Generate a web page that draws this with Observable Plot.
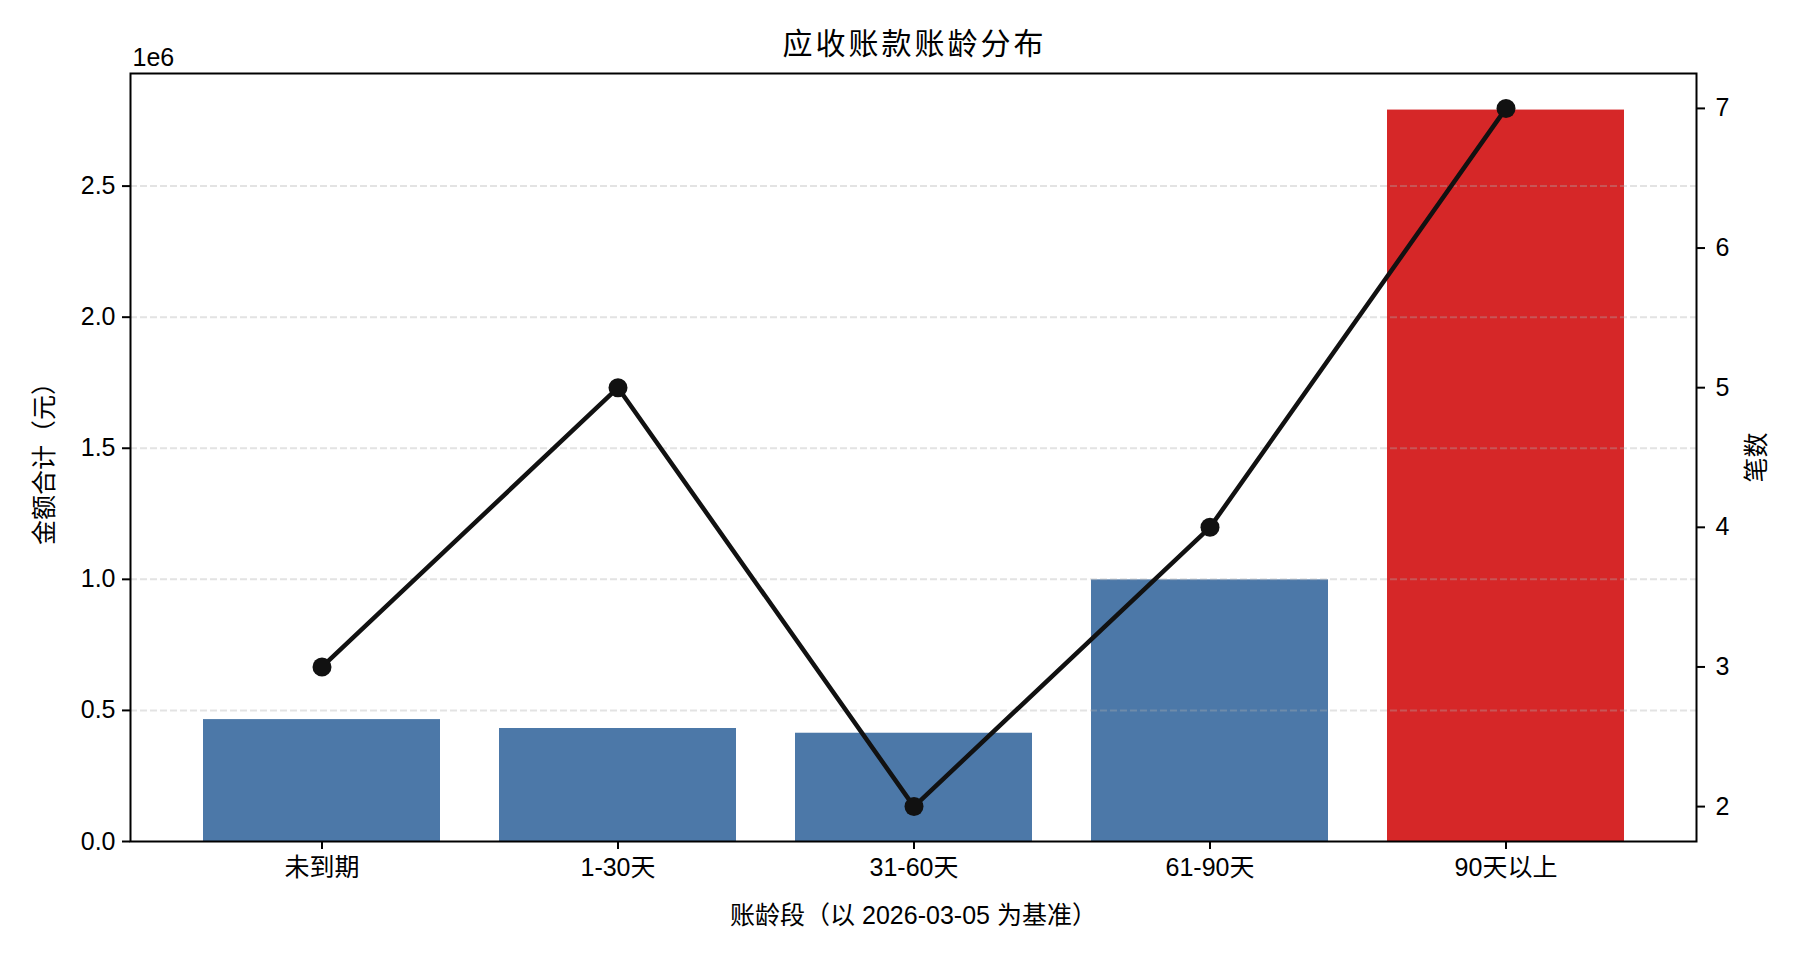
<!DOCTYPE html>
<html>
<head>
<meta charset="utf-8">
<script src="https://cdn.jsdelivr.net/npm/d3@7"></script>
<script src="https://cdn.jsdelivr.net/npm/@observablehq/plot@0.6"></script>
<style>
  html, body { margin: 0; padding: 0; background: #fff; }
  #wrap { position: relative; width: 1800px; height: 960px; font-family: "Liberation Sans", "Noto Sans CJK SC", sans-serif; color: #000; }
  #title { position: absolute; left: 130px; width: 1566px; top: 29px; line-height: 30px; font-size: 30px; letter-spacing: 3px; padding-left: 3px; box-sizing: border-box; text-align: center; }
  #wrap svg { position: absolute; left: 0; top: 0; }
</style>
</head>
<body>
<div id="wrap">
  <div id="title">应收账款账龄分布</div>
</div>
<script>
// ---- data ----
const categories = ["未到期", "1-30天", "31-60天", "61-90天", "90天以上"];
const amounts = [465000, 431000, 413000, 998000, 2790000];
const counts = [3, 5, 2, 4, 7];
const amountTicks = [0, 500000, 1000000, 1500000, 2000000, 2500000];
const countTicks = [2, 3, 4, 5, 6, 7];
const overdueCategory = "90天以上";

const rows = categories.map((c, i) => ({ category: c, amount: amounts[i], count: counts[i] }));

// ---- layout ----
const W = 1800, H = 960;
const mL = 130, mR = 104, mT = 73, mB = 119;
const font = '"Liberation Sans", "Noto Sans CJK SC", sans-serif';
const xOpts = { type: "band", domain: categories, paddingInner: 0.2, paddingOuter: 0.24 };

const countMin = d3.min(counts), countMax = d3.max(counts);
const countPad = (countMax - countMin) * 0.05;

const baseStyle = { fontFamily: font, fontSize: "25px", color: "#000", background: "transparent", overflow: "visible" };

const p1 = Plot.plot({
  width: W, height: H,
  marginLeft: mL, marginRight: mR, marginTop: mT, marginBottom: mB,
  style: baseStyle,
  x: xOpts,
  y: { domain: [0, d3.max(amounts) * 1.05] },
  color: { domain: ["normal", "overdue"], range: ["#4c78a8", "#d62728"] },
  marks: [
    Plot.barY(rows, { x: "category", y: "amount", fill: d => d.category === overdueCategory ? "overdue" : "normal" }),
    Plot.ruleY(amountTicks.filter(t => t > 0), { stroke: "#b0b0b0", strokeOpacity: 0.35, strokeWidth: 2, strokeDasharray: "7,3" }),
    Plot.axisY({ ticks: amountTicks, tickFormat: d => (d / 1e6).toFixed(1), tickSize: 8, tickPadding: 7, strokeWidth: 2, label: null }),
    Plot.axisX({ tickSize: 8, tickPadding: 9, strokeWidth: 2, label: null }),
    Plot.frame({ stroke: "#000", strokeWidth: 2 }),
    Plot.text(["1e6"], { frameAnchor: "top-left", dx: 2, dy: -8, lineAnchor: "bottom", textAnchor: "start" }),
    Plot.text(["金额合计（元）"], { frameAnchor: "left", dx: -86, rotate: -90, textAnchor: "middle", lineAnchor: "middle" }),
    Plot.text(["账龄段（以 2026-03-05 为基准）"], { frameAnchor: "bottom", dy: 74, textAnchor: "middle", lineAnchor: "middle" })
  ]
});

const p2 = Plot.plot({
  width: W, height: H,
  marginLeft: mL, marginRight: mR, marginTop: mT, marginBottom: mB,
  style: baseStyle,
  x: { ...xOpts, axis: null },
  y: { domain: [countMin - countPad, countMax + countPad] },
  marks: [
    Plot.lineY(rows, { x: "category", y: "count", stroke: "#111", strokeWidth: 4.5 }),
    Plot.dot(rows, { x: "category", y: "count", r: 9.5, fill: "#111", stroke: "none" }),
    Plot.axisY({ anchor: "right", ticks: countTicks, tickFormat: d3.format("d"), tickSize: 8, tickPadding: 11, strokeWidth: 2, label: null }),
    Plot.text(["笔数"], { frameAnchor: "right", dx: 60, rotate: -90, textAnchor: "middle", lineAnchor: "middle" })
  ]
});

const wrap = document.getElementById("wrap");
wrap.appendChild(p1);
wrap.appendChild(p2);
</script>
</body>
</html>
